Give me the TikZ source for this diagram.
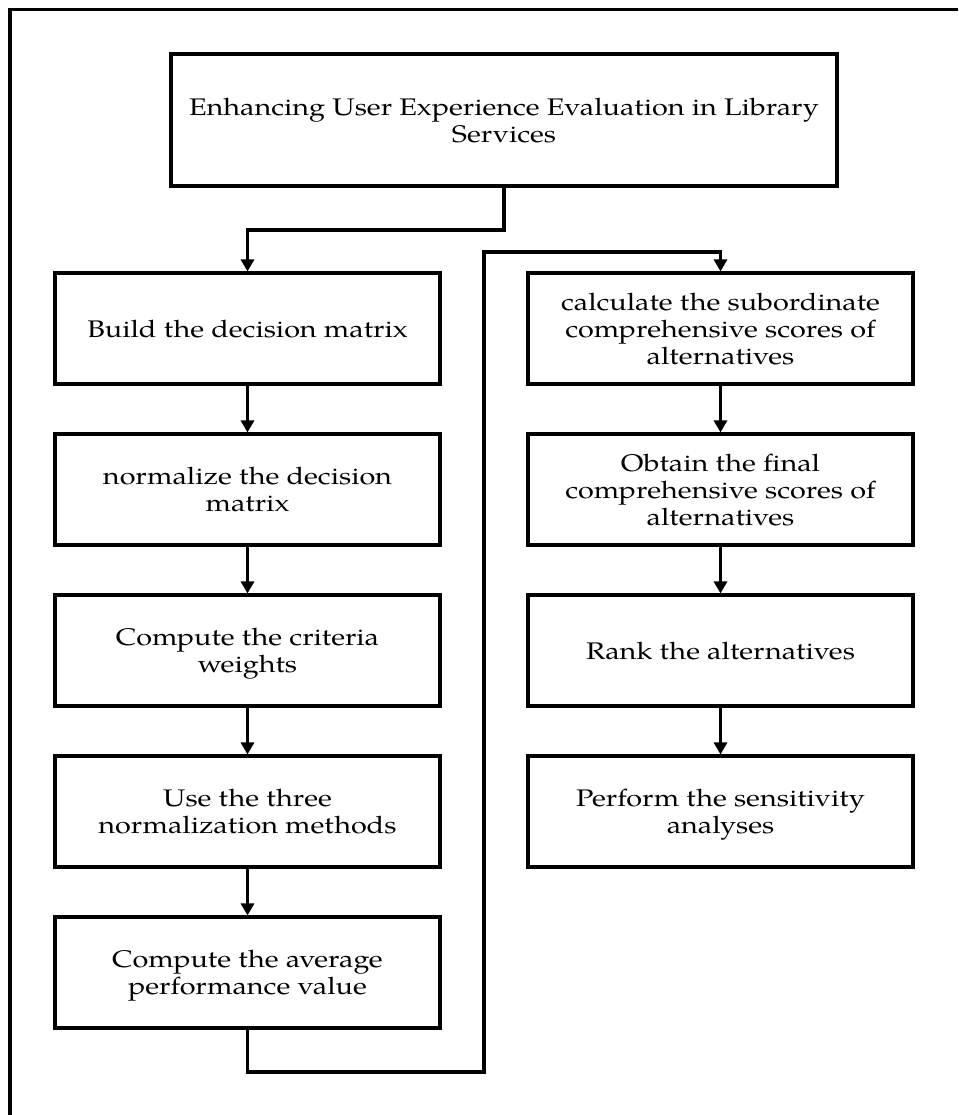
\documentclass[tikz,border=0pt]{standalone}
\usepackage{fontspec}
\setmainfont{TeX Gyre Pagella}[FakeStretch=1.2]
\usetikzlibrary{arrows.meta}
\begin{document}
\begin{tikzpicture}[x=1pt,y=-1pt,
  box/.style={draw,line width=3.1pt,rectangle,align=center,inner sep=2pt,
    font=\fontsize{24}{27}\selectfont,text depth=0pt},
  lbox/.style={box,minimum width=385pt,minimum height=111pt},
  topbox/.style={box,minimum width=666pt,minimum height=132pt},
  conn/.style={line width=3.1pt,line cap=butt},
  arr/.style={conn,-{Triangle[width=13pt,length=12pt]}}]
\useasboundingbox (0,0) rectangle (958,1115);
\draw[line width=3.5pt] (958,9.5) -- (10,9.5) -- (10,1115);
\node[topbox] (top) at (504,120) {Enhancing User Experience Evaluation in Library\\Services};
\node[lbox] (b1) at (247.5,328.5) {Build the decision matrix};
\node[lbox] (b2) at (247.5,489.5) {normalize the decision\\matrix};
\node[lbox] (b3) at (247.5,650.5) {Compute the criteria\\weights};
\node[lbox] (b4) at (247.5,811.5) {Use the three\\normalization methods};
\node[lbox] (b5) at (247.5,972.5) {Compute the average\\performance value};
\node[lbox] (r1) at (720.5,328.5) {calculate the subordinate\\comprehensive scores of\\alternatives};
\node[lbox] (r2) at (720.5,489.5) {Obtain the final\\comprehensive scores of\\alternatives};
\node[lbox] (r3) at (720.5,650.5) {Rank the alternatives};
\node[lbox] (r4) at (720.5,811.5) {Perform the sensitivity\\analyses};
\coordinate (j1) at (504,230);
\coordinate (k1) at (247.5,1072);
\coordinate (k2) at (484,1072);
\coordinate (k3) at (484,252);
\draw[arr] (top.south) -- (j1) -| (b1.north);
\draw[arr] (b1) -- (b2);
\draw[arr] (b2) -- (b3);
\draw[arr] (b3) -- (b4);
\draw[arr] (b4) -- (b5);
\draw[arr] (b5.south) -- (k1) -- (k2) -- (k3) -| (r1.north);
\draw[arr] (r1) -- (r2);
\draw[arr] (r2) -- (r3);
\draw[arr] (r3) -- (r4);
\end{tikzpicture}
\end{document}
